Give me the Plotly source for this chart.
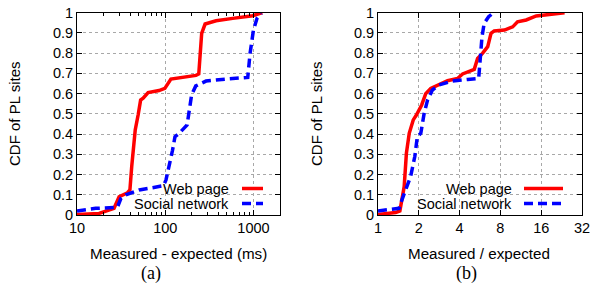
import plotly.graph_objects as go

W, H = 592, 283

# ---------------- data ----------------
# Panel (a): Measured - expected (ms)
web_a_x = [10, 17.8, 26.3, 28, 30, 37.3, 39.8, 41.7, 43.7, 45.7, 49.3, 52.6, 56.2, 64,
           85, 99, 116, 151, 223, 240, 250, 259, 283, 377, 582, 980, 1260]
web_a_y = [0.003, 0.008, 0.033, 0.066, 0.09, 0.11, 0.124, 0.239, 0.338, 0.42, 0.494, 0.568,
           0.577, 0.605, 0.615, 0.626, 0.672, 0.68, 0.69, 0.697, 0.8, 0.898, 0.944, 0.96,
           0.972, 0.985, 1.0]
soc_a_x = [10, 16.3, 28.7, 31.5, 35.7, 50.7, 71.8, 95.6, 102, 111, 121, 129, 144, 177, 187,
           199, 222, 290, 489, 862, 916, 1000, 1098, 1230]
soc_a_y = [0.02, 0.033, 0.038, 0.082, 0.1, 0.124, 0.135, 0.145, 0.173, 0.239, 0.32, 0.387,
           0.404, 0.445, 0.519, 0.593, 0.638, 0.662, 0.672, 0.68, 0.8, 0.914, 0.972, 0.997]

# Panel (b): Measured / expected
web_b_x = [1.0, 1.35, 1.45, 1.5, 1.56, 1.62, 1.7, 1.82, 1.92, 2.1, 2.25, 2.45, 2.83, 3.26,
           3.86, 4.21, 5.13, 5.43, 5.92, 6.45, 6.82, 7.2, 8.57, 9.86, 10.7, 12.4, 14.7,
           18.4, 23.8]
web_b_y = [0.003, 0.012, 0.02, 0.074, 0.14, 0.305, 0.404, 0.47, 0.494, 0.544, 0.6, 0.626,
           0.643, 0.664, 0.675, 0.697, 0.72, 0.774, 0.8, 0.832, 0.898, 0.91, 0.914, 0.93,
           0.955, 0.964, 0.984, 0.99, 1.0]
soc_b_x = [1.0, 1.27, 1.43, 1.5, 1.6, 1.74, 1.87, 1.95, 2.07, 2.19, 2.32, 2.52, 2.83, 3.55,
           4.59, 5.53, 5.67, 5.85, 6.07, 6.55, 7.03]
soc_b_y = [0.02, 0.028, 0.033, 0.074, 0.124, 0.19, 0.29, 0.387, 0.404, 0.502, 0.568, 0.618,
           0.643, 0.662, 0.67, 0.675, 0.766, 0.88, 0.947, 0.98, 0.997]

series_names = ["Web page", "Social network"]
xtick_a = [10, 100, 1000]
xtick_b = [1, 2, 4, 8, 16, 32]
xtick_b_text = ["1", "2", "4", "8", "16", "32"]
minor_a = [20, 30, 40, 50, 60, 70, 80, 90, 200, 300, 400, 500, 600, 700, 800, 900, 2000]

RED = "#ff0000"
BLUE = "#0000ff"
FONT = "Liberation Sans, Arial, Helvetica, sans-serif"
SERIF = "Liberation Serif, Times New Roman, serif"


def px(x):
    return x / W


def py(y):
    return 1 - y / H


fig = go.Figure()
fig.add_trace(go.Scatter(x=web_a_x, y=web_a_y, mode="lines", xaxis="x", yaxis="y",
                         line=dict(color=RED, width=3.5), showlegend=False))
fig.add_trace(go.Scatter(x=soc_a_x, y=soc_a_y, mode="lines", xaxis="x", yaxis="y",
                         line=dict(color=BLUE, width=3.5, dash="9px,5px"), showlegend=False))
fig.add_trace(go.Scatter(x=web_b_x, y=web_b_y, mode="lines", xaxis="x2", yaxis="y2",
                         line=dict(color=RED, width=3.5), showlegend=False))
fig.add_trace(go.Scatter(x=soc_b_x, y=soc_b_y, mode="lines", xaxis="x2", yaxis="y2",
                         line=dict(color=BLUE, width=3.5, dash="9px,5px"), showlegend=False))

ydom = [py(215), py(12.7)]
common_axis = dict(showline=True, linecolor="black", linewidth=1, mirror="ticks",
                   ticks="inside", ticklen=5, tickcolor="black", showgrid=True,
                   gridcolor="#a8a8a8", griddash="dot", gridwidth=1, zeroline=False,
                   automargin=False,
                   tickfont=dict(family=FONT, size=14.5, color="black"))
minor_a_style = dict(tickvals=minor_a, ticks="inside", ticklen=3, tickcolor="black",
                     showgrid=False)

fig.update_layout(
    width=W, height=H, autosize=False,
    margin=dict(l=0, r=0, t=0, b=0, pad=0),
    paper_bgcolor="white", plot_bgcolor="white",
    xaxis=dict(common_axis, type="log", domain=[px(77), px(280)], range=[1, 3.301],
               tickvals=xtick_a, ticktext=[str(v) for v in xtick_a], anchor="y",
               minor=minor_a_style),
    xaxis3=dict(type="log", overlaying="x", side="top", anchor="y", range=[1, 3.301],
                showgrid=False, zeroline=False, showline=False, showticklabels=False,
                ticks="", tickvals=[], automargin=False, minor=minor_a_style),
    yaxis=dict(common_axis, domain=ydom, range=[0, 1], dtick=0.1, tick0=0, anchor="x"),
    xaxis2=dict(common_axis, type="log", domain=[px(378), px(582)], range=[0, 1.50515],
                tickvals=xtick_b, ticktext=xtick_b_text, anchor="y2"),
    yaxis2=dict(common_axis, domain=ydom, range=[0, 1], dtick=0.1, tick0=0, anchor="x2"),
)

shapes = []
annotations = []

# legend boxes (white, above gridlines, below traces)
for (x0, x1) in [(112, 279), (400, 581)]:
    shapes.append(dict(type="rect", xref="paper", yref="paper", layer="between",
                       x0=px(x0), x1=px(x1), y0=py(214), y1=py(182),
                       fillcolor="white", line=dict(width=0)))

# legend entries: (text right edge, sample start, sample end)
for (tx, s0, s1) in [(231, 242, 263), (514, 524, 563)]:
    for name, yy, col, dash in [(series_names[0], 188.5, RED, "solid"),
                                (series_names[1], 203.5, BLUE, "9px,5px")]:
        annotations.append(dict(text=name, x=px(tx), y=py(yy), xref="paper", yref="paper",
                                xanchor="right", yanchor="middle", showarrow=False,
                                font=dict(family=FONT, size=14.5, color="black")))
        shapes.append(dict(type="line", xref="paper", yref="paper", layer="above",
                           x0=px(s0), x1=px(s1), y0=py(yy), y1=py(yy),
                           line=dict(color=col, width=3.5, dash=dash)))

# axis titles and panel labels
for (cx, text) in [(178, "Measured - expected (ms)"), (479, "Measured / expected")]:
    annotations.append(dict(text=text, x=px(cx), y=py(253), xref="paper", yref="paper",
                            xanchor="center", yanchor="middle", showarrow=False,
                            font=dict(family=FONT, size=15.2, color="black")))
for (cx, text) in [(151, "(a)"), (466, "(b)")]:
    annotations.append(dict(text=text, x=px(cx), y=py(273), xref="paper", yref="paper",
                            xanchor="center", yanchor="middle", showarrow=False,
                            font=dict(family=SERIF, size=18, color="black")))
for cx in [14, 316]:
    annotations.append(dict(text="CDF of PL sites", x=px(cx), y=py(114), xref="paper",
                            yref="paper", xanchor="center", yanchor="middle", textangle=-90,
                            showarrow=False,
                            font=dict(family=FONT, size=15, color="black")))

fig.update_layout(shapes=shapes, annotations=annotations)
fig.write_html("out.html", config={"displayModeBar": False},
               post_script="document.body.style.margin='0';document.body.style.overflow='hidden';")
